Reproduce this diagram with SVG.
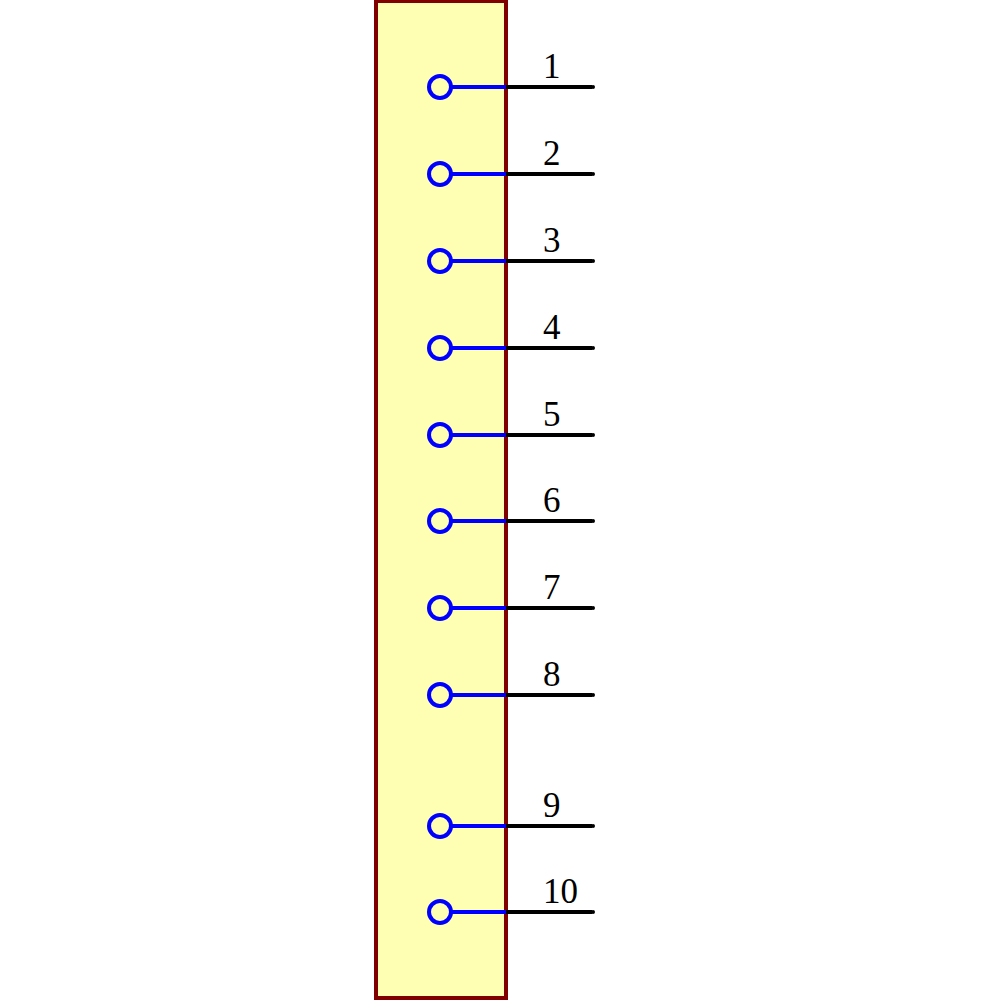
<svg xmlns="http://www.w3.org/2000/svg" width="1000" height="1000" viewBox="0 0 1000 1000">
<style>
.body{fill:#ffffb4;stroke:#800000;stroke-width:4}
.pin{fill:none;stroke:#0000ff;stroke-width:4}
.lead{stroke:#000;stroke-width:4}
.lbl{font-family:"Liberation Serif",serif;font-size:35px;fill:#000}
</style>
<defs>
<g id="pinShape">
<circle class="pin" cx="440" cy="0" r="11"/>
<line class="pin" x1="451" y1="0" x2="506" y2="0"/>
<line class="lead" x1="506" y1="0" x2="592" y2="0"/>
<circle cx="593" cy="0" r="2" fill="#000"/>
</g>
</defs>
<g id="component">
<rect class="body" x="376" y="1" width="130" height="997"/>
</g>
<g id="pins">
<g id="pin1"><use href="#pinShape" y="87"/><text class="lbl" x="543" y="78">1</text></g>
<g id="pin2"><use href="#pinShape" y="174"/><text class="lbl" x="543" y="165">2</text></g>
<g id="pin3"><use href="#pinShape" y="261"/><text class="lbl" x="543" y="252">3</text></g>
<g id="pin4"><use href="#pinShape" y="348"/><text class="lbl" x="543" y="339">4</text></g>
<g id="pin5"><use href="#pinShape" y="435"/><text class="lbl" x="543" y="426">5</text></g>
<g id="pin6"><use href="#pinShape" y="521"/><text class="lbl" x="543" y="512">6</text></g>
<g id="pin7"><use href="#pinShape" y="608"/><text class="lbl" x="543" y="599">7</text></g>
<g id="pin8"><use href="#pinShape" y="695"/><text class="lbl" x="543" y="686">8</text></g>
<g id="pin9"><use href="#pinShape" y="826"/><text class="lbl" x="543" y="817">9</text></g>
<g id="pin10"><use href="#pinShape" y="912"/><text class="lbl" x="543" y="903">10</text></g>
</g>
</svg>
